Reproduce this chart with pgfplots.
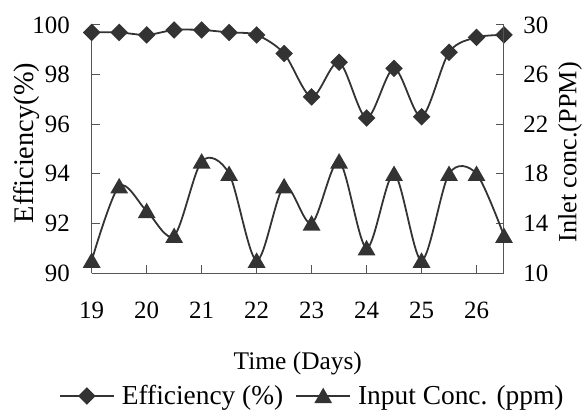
\documentclass[border=0pt]{standalone}
\usepackage{fontspec}
\setmainfont{Liberation Serif}
\usepackage{pgfplots}
\pgfplotsset{compat=1.18}
\definecolor{lc}{HTML}{333333}
\definecolor{ac}{HTML}{555555}
\pgfplotstableread{
x eff
19 99.7
19.5 99.7
20 99.6
20.5 99.8
21 99.8
21.5 99.7
22 99.6
22.5 98.85
23 97.1
23.5 98.5
24 96.25
24.5 98.25
25 96.3
25.5 98.9
26 99.5
26.5 99.6
}\efftable
\pgfplotstableread{
x conc
19 11
19.5 17
20 15
20.5 13
21 19
21.5 18
22 11
22.5 17
23 14
23.5 19
24 12
24.5 18
25 11
25.5 18
26 18
26.5 13
}\conctable
\pgfplotsset{
  common/.style={
    scale only axis, width=412.3bp, height=248bp,
    xmin=19, xmax=26.5,
    tick align=inside,
    major tick length=8bp,
    axis line style={ac, line width=1bp},
    tick style={ac, line width=1bp},
    ticklabel style={font=\fontsize{25}{30}\selectfont, text=black},
    /pgf/number format/assume math mode=true,
    /pgf/number format/fixed,
    clip=false,
  },
  effstyle/.style={lc, line width=1.8bp, smooth, mark=square*, mark size=5.3bp, mark options={solid, fill=lc, rotate=45}},
  concstyle/.style={lc, line width=1.8bp, smooth, mark=triangle*, mark size=8.5bp, mark options={solid, fill=lc, yshift=-2bp}},
  legend image code/.code={
    \draw[mark repeat=2,mark phase=2,#1] plot coordinates {(0bp,0bp) (27bp,0bp) (54bp,0bp)};
  },
}
\begin{document}
\begin{tikzpicture}
\path[use as bounding box] (-91.7bp,-139bp) rectangle (490.3bp,273bp);
\begin{axis}[
  common,
  ymin=90, ymax=100,
  axis x line*=bottom, axis y line*=left,
  xtick={19,...,26}, ytick={90,92,...,100},
  xticklabel style={anchor=north, inner sep=0pt, yshift=-29bp},
  yticklabel style={anchor=east, inner sep=0pt, xshift=-21.7bp},
  ylabel={Efficiency(\%)},
  ylabel style={at={(axis description cs:-0.1909,0.524)}, rotate=0, anchor=north, inner sep=0pt, font=\fontsize{28.5}{32}\selectfont},
  xlabel={Time (Days)},
  xlabel style={at={(axis description cs:0.5,-0.3185)}, anchor=north, inner sep=0pt, font=\fontsize{25.5}{30}\selectfont},
]
\addplot[effstyle] table[x=x, y=eff] {\efftable};
\end{axis}
\begin{axis}[
  common,
  ymin=10, ymax=30,
  axis x line=none, axis y line*=right,
  ytick={10,14,...,30},
  yticklabel style={anchor=west, inner sep=0pt, xshift=19.3bp},
  ylabel={Inlet conc.(PPM)},
  ylabel style={at={(axis description cs:1.131,0.486)}, rotate=0, anchor=north, inner sep=0pt, font=\fontsize{26.3}{30}\selectfont},
  legend columns=2,
  legend style={at={(axis description cs:0.535,-0.496)}, anchor=center, draw=none, fill=none, font=\fontsize{27.5}{32}\selectfont, /tikz/every odd column/.append style={column sep=5bp}, /tikz/every even column/.append style={column sep=10bp}},
]
\addlegendimage{effstyle}
\addlegendentry{Efficiency (\%)}
\addplot[concstyle] table[x=x, y=conc] {\conctable};
\addlegendentry{Input Conc. (ppm)}
\end{axis}
\end{tikzpicture}
\end{document}
